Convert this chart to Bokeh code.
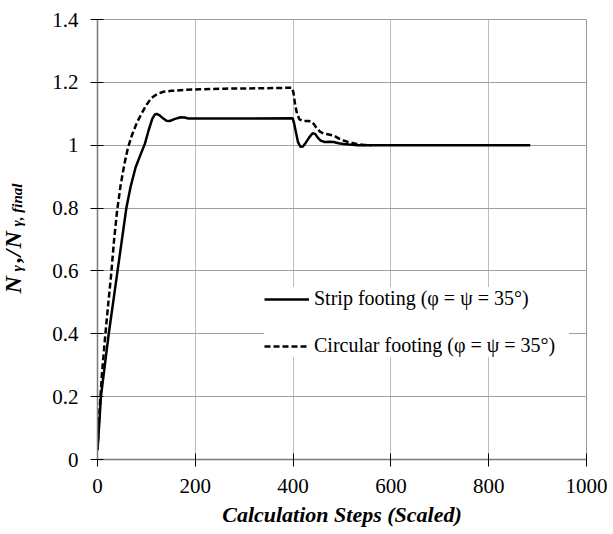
from bokeh.plotting import figure
from bokeh.layouts import row
from bokeh.models import (Range1d, FixedTicker, CustomJSTickFormatter, Legend,
                          LegendItem)
from bokeh.core.properties import value
from bokeh.embed import file_html
from bokeh.resources import INLINE

# ---- data ----
strip_x = [0, 3, 7, 15, 23, 32, 41, 50, 59, 68, 78, 88, 97, 105, 112, 117, 121,
           127, 134, 141, 148, 156, 163, 170, 178, 186, 196, 300, 399, 402, 406,
           410, 415, 420, 426, 433, 440, 445, 450, 456, 465, 475, 483, 493, 503,
           515, 532, 600, 700, 800, 885]
strip_y = [0.03, 0.10, 0.20, 0.30, 0.40, 0.50, 0.60, 0.70, 0.80, 0.87, 0.93, 0.97,
           1.005, 1.05, 1.084, 1.097, 1.100, 1.095, 1.086, 1.078, 1.077, 1.082,
           1.086, 1.089, 1.088, 1.085, 1.085, 1.085, 1.086, 1.07, 1.04, 1.01,
           0.995, 0.996, 1.008, 1.025, 1.038, 1.036, 1.025, 1.015, 1.010, 1.011,
           1.010, 1.006, 1.004, 1.002, 1.0, 1.0, 1.0, 1.0, 1.0]

circ_x = [0, 4, 9, 15, 21, 28, 34, 40, 47, 55, 62, 70, 80, 90, 100, 110, 122, 135,
          152, 175, 210, 260, 330, 398, 401, 404, 408, 413, 420, 430, 437, 442,
          448, 455, 463, 473, 483, 493, 503, 515, 530, 545, 560]
circ_y = [0.03, 0.15, 0.27, 0.38, 0.48, 0.59, 0.70, 0.79, 0.87, 0.94, 0.99, 1.03,
          1.07, 1.10, 1.128, 1.15, 1.163, 1.170, 1.173, 1.176, 1.178, 1.180,
          1.181, 1.183, 1.165, 1.13, 1.10, 1.082, 1.077, 1.077, 1.076, 1.068,
          1.055, 1.043, 1.037, 1.034, 1.031, 1.022, 1.015, 1.009, 1.004, 1.001,
          1.0]

x_ticks = [0, 200, 400, 600, 800, 1000]
y_ticks = [0, 0.2, 0.4, 0.6, 0.8, 1.0, 1.2, 1.4]
strip_label = "Strip footing (\u03c6 = \u03c8 = 35\u00b0)"
circ_label = "Circular footing (\u03c6 = \u03c8 = 35\u00b0)"
x_title = "Calculation Steps (Scaled)"
# y title pieces: N_γ, /N_{γ, final}
y_title_text = ["N", "\u03b3", ",", "/", "N", "\u03b3, final"]
y_title_size = ["24px", "15px", "24px", "24px", "24px", "15px"]

SERIF = "Liberation Serif"
H = 534
LW = 40  # width of the strip holding the y title
TOP, BOT = 19, 75

# ---- main chart ----
p = figure(width=613 - LW, height=H, x_range=Range1d(0, 1000), y_range=Range1d(0, 1.4),
           output_backend="svg", toolbar_location=None,
           min_border_left=97 - LW, min_border_right=27, min_border_top=TOP,
           min_border_bottom=BOT)
p.background_fill_color = "white"
p.border_fill_color = "white"
p.outline_line_color = "#9a9a9a"
p.outline_line_width = 1

for ax, ticks in ((p.xaxis, x_ticks), (p.yaxis, y_ticks)):
    ax.ticker = FixedTicker(ticks=ticks)
    ax.minor_tick_line_color = None
    ax.major_tick_in = 6
    ax.major_tick_out = 7
    ax.major_tick_line_color = "black"
    ax.major_tick_line_width = 1
    ax.axis_line_color = "#7a7a7a"
    ax.axis_line_width = 1.5
    ax.major_label_text_font = SERIF
    ax.major_label_text_font_size = "21px"
    ax.major_label_text_color = "black"

p.yaxis.formatter = CustomJSTickFormatter(code="return String(Math.round(tick*10)/10);")
p.yaxis.major_label_standoff = 12
p.xaxis.major_label_standoff = 12

p.xaxis.axis_label = x_title
p.xaxis.axis_label_text_font = SERIF
p.xaxis.axis_label_text_font_style = "bold italic"
p.xaxis.axis_label_text_font_size = "22px"
p.xaxis.axis_label_text_color = "black"
p.xaxis.axis_label_standoff = 6

p.xgrid.ticker = FixedTicker(ticks=x_ticks)
p.ygrid.ticker = FixedTicker(ticks=y_ticks)
p.xgrid.grid_line_color = "#bdbdbd"
p.ygrid.grid_line_color = "#a0a0a0"

r_circ = p.line(circ_x, circ_y, line_color="black", line_width=2.5, line_dash="6 3")
r_strip = p.line(strip_x, strip_y, line_color="black", line_width=2.5)

legend = Legend(items=[LegendItem(label=strip_label, renderers=[r_strip]),
                       LegendItem(label=circ_label, renderers=[r_circ])],
                location=(167, 102), orientation="vertical",
                glyph_width=45, glyph_height=20, label_height=20, label_width=255,
                label_standoff=5, spacing=24, padding=10, margin=0,
                label_text_font=SERIF, label_text_font_size="20px",
                label_text_color="black",
                background_fill_color="white", background_fill_alpha=1.0,
                border_line_color=None)
p.add_layout(legend, "center")

# ---- narrow strip with the composite y title ----
# its frame spans the same pixel rows as the main frame; y data = pixels from canvas bottom
lf = figure(width=LW, height=H, x_range=Range1d(0, LW), y_range=Range1d(BOT, H - TOP),
            output_backend="svg", toolbar_location=None,
            x_axis_type=None, y_axis_type=None,
            min_border_left=0, min_border_right=0, min_border_top=TOP,
            min_border_bottom=BOT)
lf.grid.visible = False
lf.outline_line_color = None
lf.background_fill_color = "white"
lf.border_fill_color = "white"

# baseline x and start y (pixels from the top) of each piece
px = [12, 16, 12, 12, 12, 16]
py = [293, 271, 262, 256, 248, 226]
for t, s, bx, by in zip(y_title_text, y_title_size, px, py):
    lf.text(x=[bx], y=[H - by], text=[t], angle=1.5707963,
            text_font=value(SERIF), text_font_style="bold italic",
            text_font_size=s, text_color="black",
            text_align="left", text_baseline="alphabetic")

layout = row(lf, p, spacing=0)
open("out.html", "w").write(file_html(layout, INLINE))
